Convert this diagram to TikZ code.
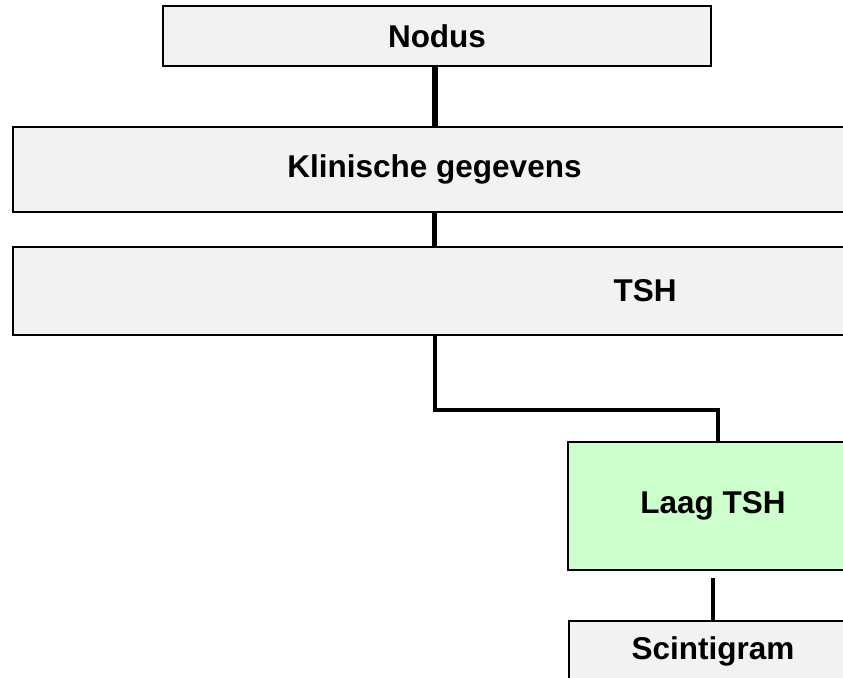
\documentclass[tikz,border=0pt]{standalone}
\usepackage{fontspec}
\setmainfont{Liberation Sans}
\definecolor{boxgray}{HTML}{F2F2F2}
\definecolor{boxgreen}{HTML}{CCFFCC}
\tikzset{
  box/.style={draw=black, line width=2bp, fill=boxgray, inner sep=0pt,
    font=\bfseries\fontsize{31.5bp}{38bp}\selectfont, text=black},
  greenbox/.style={box, fill=boxgreen},
  link/.style={line width=#1, draw=black},
  link/.default=5bp
}
\begin{document}
\begin{tikzpicture}[x=1bp, y=-1bp]
  \useasboundingbox (0,0) rectangle (843,678);
  \clip (0,0) rectangle (843,678);
  \fill[white] (0,0) rectangle (843,678);

  % decision tree boxes (several run past the right margin)
  \node[box, minimum width=548bp, minimum height=60bp] (nodus) at (437,36) {Nodus};
  \node[box, minimum width=843bp, minimum height=85bp] (klin) at (434.5,169.5) {Klinische gegevens};
  \node[box, minimum width=1264bp, minimum height=88bp] (tsh) at (645,291) {TSH};
  \node[greenbox, minimum width=290bp, minimum height=128bp] (laag) at (713,506) {Laag TSH};
  \node[box, minimum width=288bp, minimum height=60bp] (scint) at (713,651) {Scintigram};

  % connectors
  \coordinate (bend) at (717.5,410);
  \draw[link=6bp] (nodus.south -| klin.center) -- (klin.north);
  \draw[link=5.5bp] (klin.south) -- (klin.south |- tsh.north);
  \draw[link=4bp] (tsh.south -| klin.center) |- (bend) -- (bend |- laag.north);
  \draw[link=3.5bp] ([yshift=-7bp]laag.south) -- (scint.north);
\end{tikzpicture}
\end{document}
